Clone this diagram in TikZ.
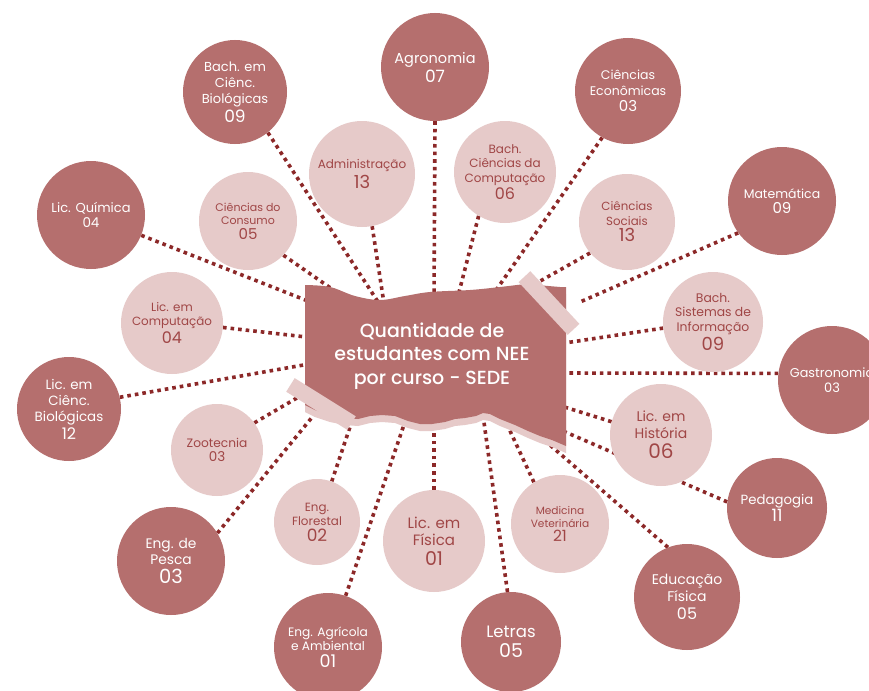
\documentclass[tikz,border=0pt]{standalone}
\usepackage{fontspec}
\setmainfont{Poppins}
\newfontfamily\titlefont{Poppins}[UprightFont={* Medium}]
\pgfdeclarelayer{bgw}
\pgfdeclarelayer{bg}
\pgfsetlayers{bgw,bg,main}
\definecolor{dkc}{HTML}{B56F6E}
\definecolor{ltc}{HTML}{E6CAC9}
\definecolor{lnc}{HTML}{8C2828}
\definecolor{ltx}{HTML}{A04646}
\newcommand\nf[2]{{\fontsize{#1}{#1}\selectfont #2}}
\tikzset{
  dk/.style={circle, fill=dkc, text=white, inner sep=0pt, align=center},
  lt/.style={circle, fill=ltc, text=ltx, inner sep=0pt, align=center},
  conn/.style={draw=lnc, line width=3.6pt, dash pattern=on 3.6pt off 4pt},
  tape/.style={fill=ltc, inner sep=0pt, rectangle}
}
\begin{document}
\begin{tikzpicture}[x=1pt,y=-1pt]
\useasboundingbox (0,0) rectangle (869,690);
\clip (0,0) rectangle (869,690);
\begin{pgfonlayer}{bgw}
\fill[white] (0,0) rectangle (869,690);
\end{pgfonlayer}
% dark circles
\node[dk, minimum size=108pt, font=\fontsize{14.5}{17}\selectfont] (agro) at (435,67) {Agronomia\\[2pt]\nf{17}{07}};
\node[dk, minimum size=104pt, font=\fontsize{13}{16}\selectfont] (bbio) at (235,92) {Bach. em\\Ciênc.\\Biológicas\\[2pt]\nf{17}{09}};
\node[dk, minimum size=108pt, font=\fontsize{13}{15.5}\selectfont] (quim) at (91,215) {Lic. Química\\\nf{13.5}{04}};
\node[dk, minimum size=106pt, font=\fontsize{12.5}{15.5}\selectfont] (ceco) at (628,91) {Ciências\\Econômicas\\[1pt]\nf{15}{03}};
\node[dk, minimum size=108pt, font=\fontsize{12.5}{15}\selectfont] (mate) at (782,201) {Matemática\\\nf{15}{09}};
\node[dk, minimum size=108pt, font=\fontsize{12.8}{15}\selectfont] (gast) at (832,380) {Gastronomia\\\nf{13}{03}};
\node[dk, minimum size=100pt, font=\fontsize{13.3}{16}\selectfont] (peda) at (777,508) {Pedagogia\\[1pt]\nf{17}{11}};
\node[dk, minimum size=106pt, font=\fontsize{14}{17}\selectfont] (edfi) at (687,597) {Educação\\Física\\[1pt]\nf{16}{05}};
\node[dk, minimum size=100pt, font=\fontsize{16.5}{19}\selectfont] (letr) at (511,642) {Letras\\[1pt]\nf{19}{05}};
\node[dk, minimum size=108pt, font=\fontsize{12.2}{14.5}\selectfont] (eagr) at (328,647) {Eng. Agrícola\\e Ambiental\\[2pt]\nf{17.5}{01}};
\node[dk, minimum size=108pt, font=\fontsize{13.8}{16}\selectfont] (epes) at (171,561) {Eng. de\\Pesca\\[3pt]\nf{19.5}{03}};
\node[dk, minimum size=104pt, font=\fontsize{13.4}{16}\selectfont] (lbio) at (69,409) {Lic. em\\Ciênc.\\Biológicas\\[2pt]\nf{16}{12}};
% light circles
\node[lt, minimum size=106pt, font=\fontsize{12}{15}\selectfont] (adm) at (362,174) {Administração\\[2pt]\nf{18}{13}};
\node[lt, minimum size=98pt, font=\fontsize{11}{13}\selectfont] (ccon) at (248,221) {Ciências do\\Consumo\\[2pt]\nf{15}{05}};
\node[lt, minimum size=102pt, font=\fontsize{12}{14.5}\selectfont] (bcc) at (505,172) {Bach.\\Ciências da\\Computação\\[1pt]\nf{16}{06}};
\node[lt, minimum size=96pt, font=\fontsize{11.8}{14.5}\selectfont] (csoc) at (627,222) {Ciências\\Sociais\\[2pt]\nf{18}{13}};
\node[lt, minimum size=100pt, font=\fontsize{12.4}{14.5}\selectfont] (bsi) at (713,322) {Bach.\\Sistemas de\\Informação\\[2pt]\nf{18}{09}};
\node[lt, minimum size=102pt, font=\fontsize{14}{17}\selectfont] (hist) at (661,435) {Lic. em\\História\\[3pt]\nf{20}{06}};
\node[lt, minimum size=98pt, font=\fontsize{10.6}{13}\selectfont] (medv) at (560,524) {Medicina\\Veterinária\\[1pt]\nf{15.5}{21}};
\node[lt, minimum size=102pt, font=\fontsize{15}{17.5}\selectfont] (fis) at (434,541) {Lic. em\\Física\\[2pt]\nf{19}{01}};
\node[lt, minimum size=86pt, font=\fontsize{11.9}{14}\selectfont] (flor) at (317,522) {Eng.\\Florestal\\[2pt]\nf{17}{02}};
\node[lt, minimum size=92pt, font=\fontsize{12.2}{14.5}\selectfont] (zoot) at (217,450) {Zootecnia\\\nf{13.5}{03}};
\node[lt, minimum size=102pt, font=\fontsize{11.9}{14}\selectfont] (lcomp) at (172,323) {Lic. em\\Computação\\[2pt]\nf{16}{04}};
% connector ends inside the title box
\coordinate (t-agro) at (434,300);
\coordinate (t-bbio) at (382,308);
\coordinate (t-adm) at (385,310);
\coordinate (t-quim) at (318,305);
\coordinate (t-ccon) at (342,296);
\coordinate (t-ceco) at (492,296);
\coordinate (t-bcc) at (457,300);
\coordinate (t-csoc) at (535,284);
\coordinate (t-mate) at (580,302);
\coordinate (t-bsi) at (558,344);
\coordinate (t-gast) at (558,373);
\coordinate (t-hist) at (558,405);
\coordinate (t-peda) at (556,428);
\coordinate (t-edfi) at (528,426);
\coordinate (t-medv) at (504,418);
\coordinate (t-letr) at (482,408);
\coordinate (t-fis) at (434,415);
\coordinate (t-flor) at (353,418);
\coordinate (t-eagr) at (408,413);
\coordinate (t-epes) at (318,410);
\coordinate (t-zoot) at (302,395);
\coordinate (t-lbio) at (315,363);
\coordinate (t-lcomp) at (315,338);
\begin{pgfonlayer}{bg}
\draw[conn] (agro.270) -- (t-agro);
\draw[conn] (bbio.-51) -- (t-bbio);
\draw[conn] (adm.-79) -- (t-adm);
\draw[conn] (quim.-22) -- (t-quim);
\draw[conn] (ccon.-44) -- (t-ccon);
\draw[conn] (ceco.241) -- (t-ceco);
\draw[conn] (bcc.239) -- (t-bcc);
\draw[conn] (csoc.220) -- (t-csoc);
\draw[conn] (mate.216) -- (t-mate);
\draw[conn] (bsi.187) -- (t-bsi);
\draw[conn] (gast.173) -- (t-gast);
\draw[conn] (hist.165) -- (t-hist);
\draw[conn] (peda.173) -- (t-peda);
\draw[conn] (edfi.111) -- (t-edfi);
\draw[conn] (medv.122) -- (t-medv);
\draw[conn] (letr.94) -- (t-letr);
\draw[conn] (fis.90) -- (t-fis);
\draw[conn] (flor.70) -- (t-flor);
\draw[conn] (eagr.71) -- (t-eagr);
\draw[conn] (epes.31) -- (t-epes);
\draw[conn] (zoot.36) -- (t-zoot);
\draw[conn] (lbio.13) -- (t-lbio);
\draw[conn] (lcomp.-5) -- (t-lcomp);
\end{pgfonlayer}
% torn paper box
\def\boxpath{plot[smooth, tension=0.6] coordinates {(305,285) (330,287) (355,296) (380,300) (405,296) (430,292) (470,290) (500,287) (525,284)} -- (560,287) -- (566,287) -- (566,446) -- (552,440) -- (540,436) -- (528,431) -- (515,425) -- (500,419) -- (490,414) -- (483,413) -- (476,416) -- (465,418) -- (455,419) -- (445,422) -- (432,424) -- (420,424) -- (408,421) -- (395,416) -- (382,415) -- (370,416) -- (358,419) -- (345,418) -- (330,415) -- (315,410) -- (305,405) -- cycle}
\fill[ltc, shift={(0,7)}] \boxpath;
\fill[dkc] \boxpath;
\node[tape, rotate=-47, minimum width=72pt, minimum height=16pt] (tape1) at (549,303) {};
\node[tape, rotate=-32, minimum width=72pt, minimum height=16pt] (tape2) at (321,404) {};
\node[text=white, align=center, font=\titlefont\fontsize{19}{23.5}\selectfont] (title) at (432,356) {Quantidade de\\estudantes com NEE\\por curso - SEDE};
\end{tikzpicture}
\end{document}
